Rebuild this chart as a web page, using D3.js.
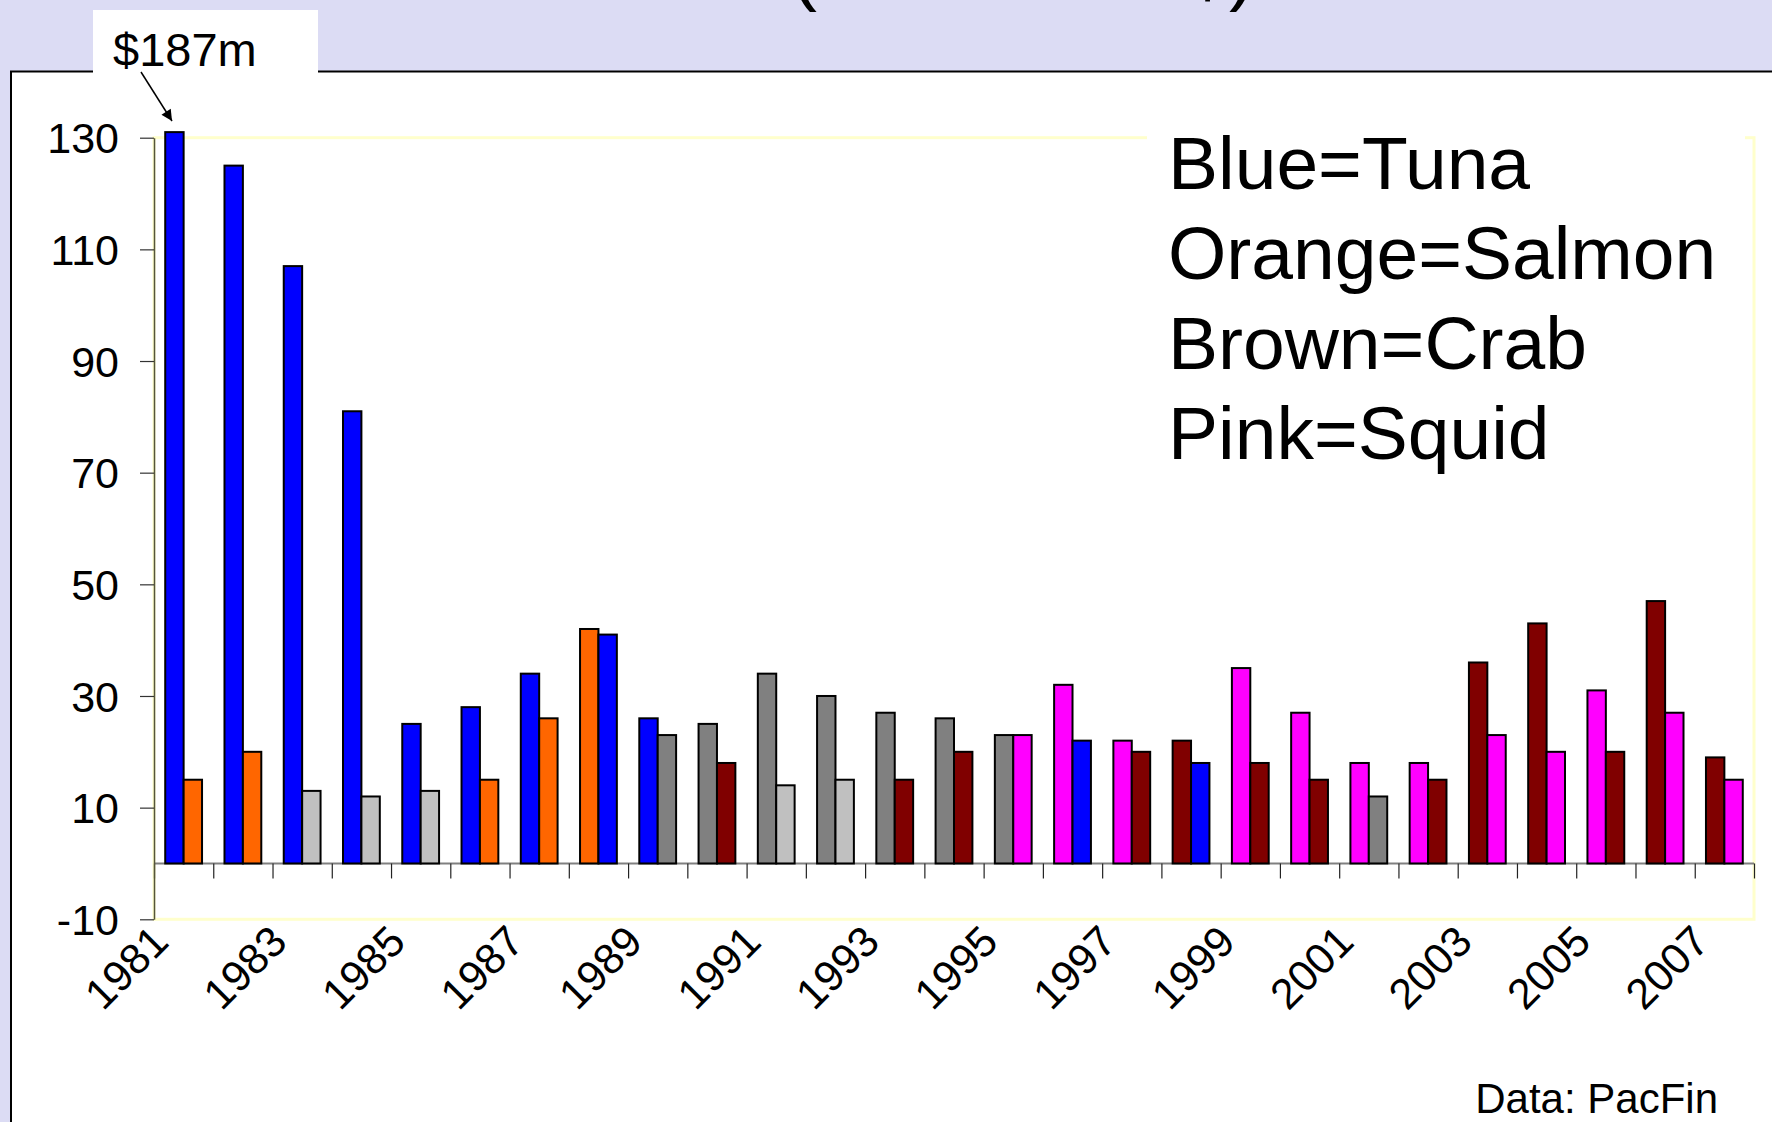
<!DOCTYPE html>
<html>
<head>
<meta charset="utf-8">
<script src="https://cdn.jsdelivr.net/npm/d3@7"></script>
<style>
  body { margin: 0; background: #dcdcf4; }
  svg { display: block; font-family: "Liberation Sans", Arial, sans-serif; }
</style>
</head>
<body>
<svg width="1772" height="1122"></svg>
<script>
// years on the category axis
const years = [1981, 1982, 1983, 1984, 1985, 1986, 1987, 1988, 1989, 1990,
               1991, 1992, 1993, 1994, 1995, 1996, 1997, 1998, 1999, 2000,
               2001, 2002, 2003, 2004, 2005, 2006, 2007];

// revenue ($ millions), top fishery of each year and second fishery
const firstValues  = [187, 125, 107, 81, 25, 28, 34, 42, 26, 25, 34, 30, 27, 26,
                      23, 32, 22, 22, 35, 27, 18, 18, 36, 43, 31, 47, 19];
const firstKinds   = ["tuna", "tuna", "tuna", "tuna", "tuna", "tuna", "tuna", "salmon", "tuna",
                      "grey", "grey", "grey", "grey", "grey", "grey", "squid", "squid", "crab",
                      "squid", "squid", "squid", "squid", "crab", "crab", "squid", "crab", "crab"];
const secondValues = [15, 20, 13, 12, 13, 15, 26, 41, 23, 18, 14, 15, 15, 20,
                      23, 22, 20, 18, 18, 15, 12, 15, 23, 20, 20, 27, 15];
const secondKinds  = ["salmon", "salmon", "light", "light", "light", "salmon", "salmon", "tuna", "grey",
                      "crab", "light", "light", "crab", "crab", "squid", "tuna", "crab", "tuna",
                      "crab", "crab", "grey", "crab", "squid", "squid", "crab", "squid", "squid"];

const kindColors = { tuna: "#0000ff", salmon: "#ff6600", crab: "#800000",
                     squid: "#ff00ff", grey: "#808080", light: "#c0c0c0" };

const yTicks = [-10, 10, 30, 50, 70, 90, 110, 130];
const legendLines = ["Blue=Tuna", "Orange=Salmon", "Brown=Crab", "Pink=Squid"];

const svg = d3.select("svg");

// cut-off title at top of slide (only the descenders show)
svg.append("text")
    .attr("x", 1023).attr("y", -4)
    .attr("text-anchor", "middle")
    .attr("font-size", 78)
    .attr("fill", "#000")
    .text("(Millions of $)");

// white chart frame
svg.append("rect")
    .attr("x", 11).attr("y", 71.5)
    .attr("width", 1800).attr("height", 1100)
    .attr("fill", "#fff")
    .attr("stroke", "#000").attr("stroke-width", 2);

// label box above the frame
svg.append("rect")
    .attr("x", 93).attr("y", 10)
    .attr("width", 225).attr("height", 63)
    .attr("fill", "#fff");

const plotLeft = 154, plotRight = 1754, plotTop = 137.7, plotBottom = 919.3;

const x = d3.scaleBand().domain(years).range([plotLeft, plotRight]).padding(0);
const xIdx = d3.scaleLinear().domain([0, years.length]).range([plotLeft, plotRight]);
const inner = d3.scaleBand().domain([0, 1]).range([0, x.bandwidth()])
    .paddingInner(0).paddingOuter(0.61);
const y = d3.scaleLinear().domain([-10, 130]).range([plotBottom, plotTop]);

// plot area border (light yellow)
svg.append("rect")
    .attr("x", plotLeft).attr("y", plotTop)
    .attr("width", plotRight - plotLeft).attr("height", plotBottom - plotTop)
    .attr("fill", "none")
    .attr("stroke", "#ffffcc").attr("stroke-width", 3);

// zero line
svg.append("line")
    .attr("x1", plotLeft).attr("x2", plotRight)
    .attr("y1", y(0)).attr("y2", y(0))
    .attr("stroke", "#808080").attr("stroke-width", 2);

// bars
const bars = [];
years.forEach((yr, i) => {
    bars.push({ year: yr, slot: 0, value: firstValues[i], kind: firstKinds[i] });
    bars.push({ year: yr, slot: 1, value: secondValues[i], kind: secondKinds[i] });
});
const yClip = 131; // tallest bar runs off the top of the axis

svg.append("g").selectAll("rect")
    .data(bars)
    .enter().append("rect")
    .attr("x", d => x(d.year) + inner(d.slot))
    .attr("width", inner.bandwidth())
    .attr("y", d => y(Math.min(d.value, yClip)))
    .attr("height", d => y(0) - y(Math.min(d.value, yClip)))
    .attr("fill", d => kindColors[d.kind])
    .attr("stroke", "#000").attr("stroke-width", 2);

// category tick marks hanging from zero line
const xAxis = svg.append("g")
    .attr("transform", `translate(0,${y(0)})`)
    .call(d3.axisBottom(xIdx).tickValues(d3.range(years.length + 1))
        .tickSize(15).tickSizeOuter(0).tickFormat(""));
xAxis.select(".domain").remove();
xAxis.selectAll(".tick line").attr("stroke", "#222").attr("stroke-width", 1.2);

// rotated year labels, every other year
svg.append("g").selectAll("text")
    .data(years.filter((d, i) => i % 2 === 0))
    .enter().append("text")
    .attr("transform", d => `translate(${x(d) + x.bandwidth() / 2 - 13},944) rotate(-45)`)
    .attr("text-anchor", "end")
    .attr("font-size", 43)
    .attr("fill", "#000")
    .text(d => d);

// value axis
const yAxis = svg.append("g")
    .attr("transform", `translate(${plotLeft},0)`)
    .call(d3.axisLeft(y).tickValues(yTicks).tickSize(14).tickSizeOuter(0).tickPadding(21)
        .tickFormat(d => String(d)));
yAxis.select(".domain").attr("stroke", "#55553a").attr("stroke-width", 1.5);
yAxis.selectAll(".tick line").attr("stroke", "#333").attr("stroke-width", 1.2);
yAxis.selectAll(".tick text")
    .attr("font-size", 43)
    .attr("font-family", "Liberation Sans, Arial, sans-serif")
    .attr("fill", "#000")
    .attr("dy", "0.35em");

// legend text in a white box
svg.append("rect")
    .attr("x", 1147).attr("y", 128)
    .attr("width", 598).attr("height", 352)
    .attr("fill", "#fff");
svg.append("g").selectAll("text")
    .data(legendLines)
    .enter().append("text")
    .attr("x", 1168)
    .attr("y", (d, i) => 189 + i * 90)
    .attr("font-size", 75)
    .attr("fill", "#000")
    .text(d => d);

// annotation for the off-scale bar
svg.append("text")
    .attr("x", 113).attr("y", 66)
    .attr("font-size", 47)
    .attr("fill", "#000")
    .text("$187m");

svg.append("defs").append("marker")
    .attr("id", "arrow")
    .attr("viewBox", "0 0 10 10")
    .attr("refX", 10).attr("refY", 5)
    .attr("markerWidth", 13).attr("markerHeight", 11)
    .attr("markerUnits", "userSpaceOnUse")
    .attr("orient", "auto")
    .append("path")
    .attr("d", "M0,0 L10,5 L0,10 z")
    .attr("fill", "#000");
svg.append("line")
    .attr("x1", 141).attr("y1", 72)
    .attr("x2", 172).attr("y2", 121)
    .attr("stroke", "#000").attr("stroke-width", 1.5)
    .attr("marker-end", "url(#arrow)");

// source note
svg.append("text")
    .attr("x", 1718).attr("y", 1113)
    .attr("text-anchor", "end")
    .attr("font-size", 42)
    .attr("fill", "#000")
    .text("Data: PacFin");
</script>
</body>
</html>
